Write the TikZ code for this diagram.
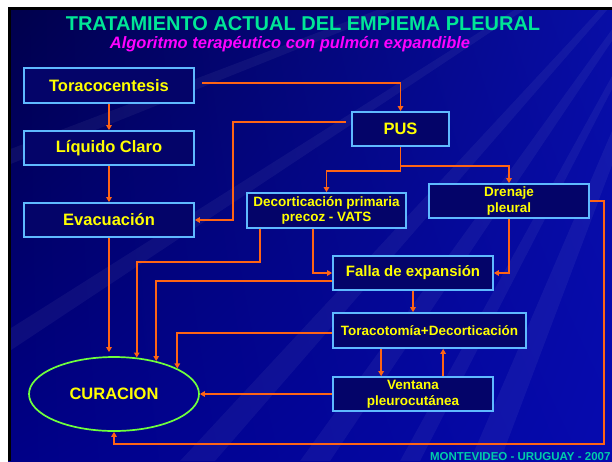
\documentclass[tikz,border=0pt]{standalone}
\usepackage{fontspec}
\setmainfont{Liberation Sans}
\usetikzlibrary{shapes.geometric,arrows.meta,shadings}
\definecolor{bgUL}{RGB}{0,0,75}
\definecolor{bgUR}{RGB}{8,14,165}
\definecolor{bgLL}{RGB}{0,0,135}
\definecolor{bgLR}{RGB}{6,10,175}
\definecolor{boxfill}{RGB}{4,4,105}
\definecolor{boxline}{RGB}{95,185,255}
\definecolor{arrowc}{RGB}{255,100,20}
\definecolor{txtyel}{RGB}{255,255,0}
\definecolor{titlec}{RGB}{0,230,150}
\definecolor{subc}{RGB}{255,0,255}
\definecolor{footc}{RGB}{0,205,170}
\definecolor{ellc}{RGB}{110,255,60}
\tikzset{
  stepbox/.style={draw=boxline, line width=1.7pt, fill=boxfill, text=txtyel,
    font=\bfseries\fontsize{16.5}{18}\selectfont, align=center, inner sep=0pt},
  smallbox/.style={stepbox, font=\bfseries\fontsize{13.5}{15.5}\selectfont},
  arr/.style={draw=arrowc, line width=1.7pt, -{Triangle[length=5pt,width=5.5pt]}},
  streak/.style={fill=white, opacity=0.05},
}
\begin{document}
\begin{tikzpicture}[x=1pt,y=-1pt]
\useasboundingbox (0,0) rectangle (612,461);
\fill[white] (0,0) rectangle (612,461);
\shade[upper left=bgUL, upper right=bgUR, lower left=bgLL, lower right=bgLR] (8,7) rectangle (612,461);
\begin{scope}
\clip (8,7) rectangle (612,461);
\fill[streak] (720,-120) -- (300,461) -- (330,461) -- cycle;
\fill[streak] (720,-120) -- (400,461) -- (420,461) -- cycle;
\fill[streak] (720,-120) -- (470,461) -- (500,461) -- cycle;
\fill[streak] (720,-120) -- (8,330) -- (8,352) -- cycle;
\fill[streak] (720,-120) -- (8,150) -- (8,165) -- cycle;
\fill[streak] (720,-120) -- (180,461) -- (215,461) -- cycle;
\fill[black] (8,7) rectangle (612,10);
\fill[black] (8,7) rectangle (11,461);
\end{scope}

% titles
\node[text=titlec, font=\bfseries\fontsize{20}{22}\selectfont] (title) at (303,24) {TRATAMIENTO ACTUAL DEL EMPIEMA PLEURAL};
\node[text=subc, font=\bfseries\itshape\fontsize{16.5}{18}\selectfont] (sub) at (290,44) {Algoritmo terapéutico con pulmón expandible};
\node[text=footc, font=\bfseries\fontsize{11.5}{13}\selectfont, anchor=base east] (foot) at (614,460) {MONTEVIDEO - URUGUAY - 2007};

% boxes
\node[stepbox, minimum width=170pt, minimum height=35pt] (toraco) at (109,85.5) {Toracocentesis};
\node[stepbox, minimum width=170pt, minimum height=34pt] (liquido) at (109,148) {Líquido Claro};
\node[stepbox, minimum width=170pt, minimum height=34pt] (evac) at (109,220) {Evacuación};
\node[stepbox, minimum width=97pt, minimum height=34pt] (pus) at (400.5,129) {PUS};
\node[smallbox, minimum width=159pt, minimum height=35pt] (decort) at (326.5,210.5) {Decorticación primaria\\precoz - VATS};
\node[smallbox, minimum width=160pt, minimum height=34pt] (drenaje) at (509,201) {Drenaje\\pleural};
\node[stepbox, font=\bfseries\fontsize{15}{17}\selectfont, minimum width=160pt, minimum height=34pt] (falla) at (413,273) {Falla de expansión};
\node[smallbox, minimum width=193pt, minimum height=35pt] (toracot) at (429.5,330.5) {Toracotomía+Decorticación};
\node[smallbox, minimum width=160pt, minimum height=34pt] (ventana) at (413,394) {Ventana\\pleurocutánea};
\node[ellipse, draw=ellc, line width=1.7pt, text=txtyel, inner sep=0pt,
  minimum width=170pt, minimum height=74pt, font=\bfseries\fontsize{16.5}{18}\selectfont] (cur) at (114,394) {CURACION};

\coordinate (loop) at (604,444);

% connectors
\draw[arr] ([xshift=7pt,yshift=2.5pt]toraco.east) -| (pus.north);
\draw[arr] (toraco.south) -- (liquido.north);
\draw[arr] (liquido.south) -- (evac.north);
\draw[arr] ([xshift=-5pt,yshift=7pt]pus.west) -- ++(-113,0) |- (evac.east);
\draw[arr] (pus.south) -- ++(0,24) -| (decort.north);
\draw[arr] (pus.south) -- ++(0,19) -| (drenaje.north);
\draw[arr] ([xshift=14pt]decort.south west) -- ++(0,33) -| (cur.58.4);
\draw[arr] ([xshift=67pt]decort.south west) |- (falla.west);
\draw[arr] (drenaje.south) |- (falla.east);
\draw[arr] ([yshift=-8pt]falla.west) -| (cur.38.3);
\draw[arr] (falla.south) -- (falla.south |- toracot.north);
\draw[arr] ([yshift=-2.5pt]toracot.west) -| (cur.22.9);
\draw[arr] ([xshift=49pt]toracot.south west) -- ([xshift=49pt]toracot.south west |- ventana.north);
\draw[arr] ([xshift=111pt]ventana.north west) -- ([xshift=111pt]ventana.north west |- toracot.south);
\draw[arr] (ventana.west) -- (cur.east);
\draw[arr] (evac.south) -- ([yshift=4pt]evac.south |- cur.north);
\draw[arr] (drenaje.east) -| (loop) -| (cur.south);
\end{tikzpicture}
\end{document}
